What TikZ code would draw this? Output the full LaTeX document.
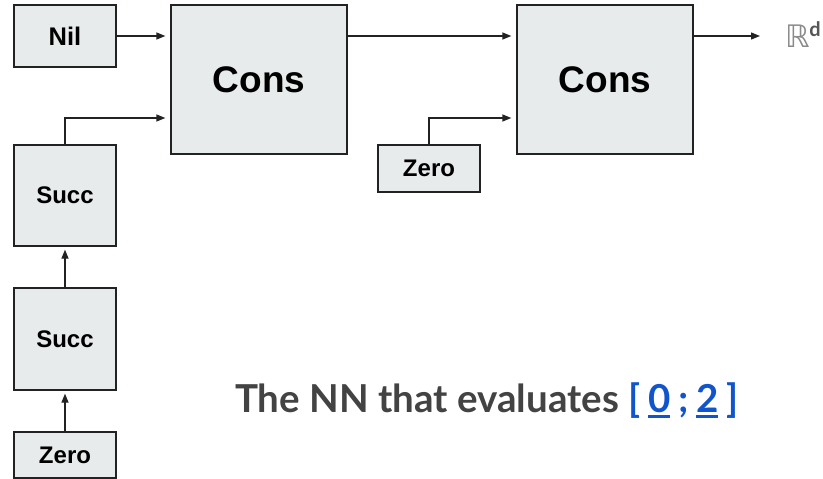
\documentclass[tikz,border=0pt]{standalone}
\usepackage{fontspec}
\setmainfont{Liberation Sans}
\newfontfamily\latofont{Lato}
\newfontfamily\symfont{DejaVu Sans}
\usetikzlibrary{arrows.meta}
\definecolor{boxfill}{HTML}{E8EBEC}
\definecolor{boxline}{HTML}{222222}
\definecolor{captiongray}{HTML}{434343}
\definecolor{linkblue}{HTML}{1155CC}
\definecolor{realgray}{HTML}{8A8A8A}
\newcommand\ulnum[1]{\setbox0\hbox{#1}\rlap{\rule[-6pt]{\wd0}{2.6pt}}\box0}
\newcommand\gap{\hspace{0.2em}}
\tikzset{
  opbox/.style={draw=boxline, fill=boxfill, line width=1.3pt, inner sep=0pt,
    font=\bfseries, text=black},
  flow/.style={draw=boxline, line width=1.3pt,
    -{Triangle[length=9pt,width=7pt]}, shorten >=5pt},
}
\begin{document}
\begin{tikzpicture}[x=1pt,y=-1pt]
\useasboundingbox (0,0) rectangle (823,479);
% operator boxes
\node[opbox, minimum width=102pt, minimum height=62pt, font=\bfseries\fontsize{25.5}{28}\selectfont] (nil) at (65,36) {Nil};
\node[opbox, minimum width=176pt, minimum height=149pt, font=\bfseries\fontsize{37}{40}\selectfont] (cons1) at (259,79.5) {Cons};
\node[opbox, minimum width=176pt, minimum height=149pt, font=\bfseries\fontsize{37}{40}\selectfont] (cons2) at (605,79.5) {Cons};
\node[opbox, minimum width=102pt, minimum height=101pt, font=\bfseries\fontsize{24}{26}\selectfont] (succ1) at (65,195.5) {Succ};
\node[opbox, minimum width=102pt, minimum height=102pt, font=\bfseries\fontsize{24}{26}\selectfont] (succ2) at (65,339) {Succ};
\node[opbox, minimum width=102pt, minimum height=47pt, font=\bfseries\fontsize{24}{26}\selectfont] (zero1) at (429,168.5) {Zero};
\node[opbox, minimum width=102pt, minimum height=46pt, font=\bfseries\fontsize{24}{26}\selectfont] (zero2) at (65,455) {Zero};
% output space
\node[anchor=base west, inner sep=0pt, text=realgray] (out) at (785,47)
  {\symfont\fontsize{31}{34}\selectfont ℝ\hspace{-0.5pt}\raisebox{11pt}{\latofont\bfseries\fontsize{20}{22}\selectfont\color{captiongray!90}d}};
\coordinate (outend) at (765,36);
% connectors
\draw[flow] (nil.east |- 0,36) -- (cons1.west |- 0,36);
\draw[flow] (succ1.north) |- (cons1.west |- 0,118);
\draw[flow] (cons1.east |- 0,36) -- (cons2.west |- 0,36);
\draw[flow] (zero1.north) |- (cons2.west |- 0,118);
\draw[flow] (cons2.east |- 0,36) -- (outend);
\draw[flow, shorten >=3pt] (succ2.north) -- (succ1.south);
\draw[flow, shorten >=3pt] (zero2.north) -- (succ2.south);
% caption
\node[anchor=base west, inner sep=0pt, text=captiongray] (caption) at (235,412)
  {\latofont\bfseries\fontsize{38.5}{44}\selectfont The NN that evaluates
   {\color{linkblue}[\gap\ulnum{0}\gap;\gap\ulnum{2}\gap]}};
\end{tikzpicture}
\end{document}
